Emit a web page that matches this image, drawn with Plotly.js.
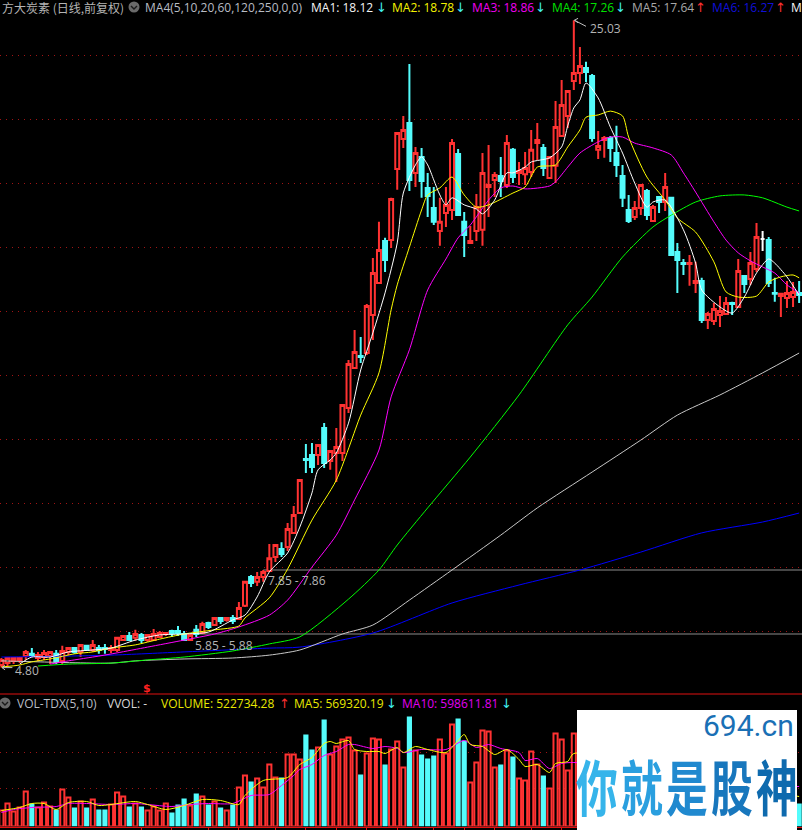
<!DOCTYPE html>
<html><head><meta charset="utf-8">
<script src="https://cdn.plot.ly/plotly-3.0.1.min.js"></script>
<style>html,body{margin:0;padding:0;background:#000;overflow:hidden}#c{width:802px;height:830px}</style>
</head><body><div id="c"></div>
<script>
const high=[5.10,5.13,5.13,5.13,5.35,5.41,5.29,5.35,5.32,5.35,5.48,5.41,5.44,5.54,5.51,5.66,5.51,5.54,5.51,5.76,5.82,5.91,5.98,5.88,5.85,6.01,5.94,5.91,5.98,6.10,5.94,5.85,6.13,6.23,6.23,6.38,6.35,6.38,6.44,6.85,7.51,7.69,7.79,7.85,8.66,8.66,8.72,9.32,9.85,10.69,11.79,11.82,11.79,12.44,11.60,12.29,13.04,14.41,15.35,15.13,16.16,17.60,18.73,18.23,19.48,21.54,22.04,23.66,21.07,21.04,20.26,19.82,19.48,19.82,21.32,21.01,19.04,18.60,19.60,20.88,21.13,20.29,20.76,21.44,21.04,20.60,20.91,21.60,21.82,21.16,20.76,22.51,23.16,22.85,25.03,24.19,23.73,23.35,21.57,21.41,21.41,21.73,20.51,19.57,19.38,19.91,19.76,19.26,19.51,20.26,19.48,18.07,17.57,17.69,17.48,16.98,15.91,16.19,16.41,16.38,16.23,17.57,17.07,17.79,18.69,18.44,18.26,16.98,16.51,16.88,16.85,16.88];
const open=[4.88,4.94,5.01,5.04,5.16,5.23,5.10,5.13,5.16,5.23,5.01,5.29,5.41,5.29,5.48,5.35,5.41,5.41,5.35,5.35,5.66,5.79,5.73,5.82,5.66,5.66,5.76,5.85,5.94,5.94,5.85,5.66,5.98,5.88,6.19,6.13,6.35,6.29,6.35,6.32,6.73,7.63,7.48,7.63,7.82,8.26,8.51,8.57,9.01,9.63,11.32,11.44,11.44,12.29,11.26,11.51,11.51,12.91,14.16,14.54,14.63,15.82,16.82,18.13,18.16,20.38,21.32,21.82,20.26,20.76,19.79,19.16,18.44,19.01,19.10,20.85,18.73,18.07,18.44,18.48,19.82,20.04,20.16,19.88,20.98,20.26,20.22,20.29,21.19,21.04,20.10,20.48,21.41,22.04,23.13,23.38,23.54,23.29,20.98,21.29,21.35,20.88,20.16,19.10,18.88,19.16,19.69,18.76,19.51,19.35,19.48,17.79,17.44,17.41,16.82,16.88,15.66,15.63,15.82,15.85,16.19,16.07,17.04,16.94,17.26,18.19,18.16,16.51,16.41,16.35,16.38,16.51];
const close=[5.04,5.10,5.10,5.10,5.29,5.19,5.19,5.26,5.29,4.98,5.32,5.41,5.29,5.51,5.35,5.51,5.35,5.38,5.41,5.73,5.79,5.66,5.85,5.66,5.82,5.85,5.88,5.88,5.88,5.88,5.66,5.82,5.85,6.16,6.07,6.35,6.26,6.35,6.26,6.66,7.48,7.44,7.63,7.79,8.22,8.63,8.35,9.13,9.57,10.66,11.29,11.07,11.76,11.19,11.57,11.69,13.01,14.29,14.66,14.51,16.10,17.13,17.85,17.54,19.44,21.51,21.60,20.04,20.88,20.01,19.54,18.73,18.73,19.26,21.19,18.94,18.32,18.13,19.19,20.26,19.88,20.19,20.01,21.19,20.13,20.32,20.41,20.98,21.29,20.41,20.76,21.69,22.38,22.82,23.38,23.60,23.41,21.35,21.10,21.35,21.04,20.51,19.48,18.76,19.16,19.88,18.94,19.19,19.35,19.82,17.69,17.54,17.41,17.44,16.88,15.66,15.85,16.01,15.94,16.19,16.16,17.19,16.79,17.44,18.26,18.19,16.82,16.48,16.48,16.51,16.54,16.44];
const low=[4.80,4.85,4.91,4.94,5.04,5.13,5.01,5.04,4.91,4.91,4.91,5.19,5.23,5.13,5.32,5.29,5.23,5.23,5.26,5.29,5.63,5.63,5.63,5.57,5.60,5.63,5.73,5.79,5.76,5.79,5.63,5.63,5.76,5.85,6.01,6.10,6.16,6.23,6.16,6.29,6.69,7.32,7.35,7.48,7.79,8.10,8.26,8.44,9.01,9.60,10.88,10.88,11.13,11.04,10.98,10.60,11.26,12.76,14.16,14.32,14.57,15.04,16.82,17.16,17.91,19.73,21.04,19.69,19.82,19.48,18.88,18.63,17.98,18.57,18.79,18.91,17.63,18.04,18.13,17.98,18.88,19.51,19.51,19.79,19.94,19.88,19.88,20.13,20.66,20.16,20.07,19.94,21.41,21.66,22.85,23.04,23.10,21.23,20.69,20.73,20.60,20.13,19.19,18.69,18.79,18.94,18.79,18.73,19.01,19.07,17.66,16.51,17.07,16.73,16.51,15.57,15.38,15.51,15.44,15.82,15.82,16.04,16.51,16.76,17.16,17.82,16.69,16.23,15.76,16.04,16.07,16.19];
const dojiIndex=125;

const ma1Idx=[3,5,8,11,15,18,22,26,30,34,38,40,42,44,47,49,51,52,54,55,57,59,61,63,65,66,68,69,70,71,72,73,74,76,78,79,81,83,84,86,87,90,92,93,94,95,96,98,100,102,104,106,107,109,112,114,115,118,120,122,124,126,127,129,131];
const ma1Val=[4.91,5.13,5.13,5.29,5.35,5.41,5.66,5.82,5.85,5.91,6.29,6.44,7.01,7.79,8.38,9.19,10.26,10.98,11.29,11.51,12.44,14.10,15.26,16.51,18.07,19.63,20.51,20.76,20.51,20.04,19.57,19.26,19.48,19.26,19.13,18.98,19.41,20.26,20.26,20.44,20.60,20.73,21.07,21.73,22.29,22.54,23.07,22.60,21.69,20.88,19.94,19.19,19.35,19.41,18.48,17.44,16.60,16.07,15.88,16.38,17.13,17.57,17.44,17.01,16.44];
const ma2Idx=[0,3,5,8,12,15,18,22,26,30,35,39,40,44,47,51,55,59,62,64,65,67,69,70,72,74,76,78,80,84,86,88,91,93,95,96,98,100,102,103,106,109,111,114,117,119,121,124,126,128,130,131];
const ma2Val=[4.82,4.88,4.98,5.07,5.23,5.29,5.41,5.51,5.69,5.85,5.98,6.10,6.35,6.98,7.88,9.41,10.66,12.69,14.01,15.98,16.76,17.94,19.10,19.57,19.79,20.13,19.57,19.19,19.26,19.63,19.82,20.44,20.51,21.07,21.60,22.00,22.07,22.19,22.04,21.38,20.13,19.41,18.85,18.41,17.48,16.54,16.38,16.41,16.85,17.01,17.07,16.98];
const ma3Idx=[8,11,16,19,24,30,35,39,44,47,51,55,58,62,64,67,70,73,75,77,80,82,84,86,90,91,93,95,98,100,102,104,107,110,112,114,117,119,121,123,125,127,129,131];
const ma3Val=[4.91,5.01,5.16,5.26,5.44,5.66,5.85,6.07,6.44,6.91,7.94,8.94,10.04,11.60,13.26,14.73,16.60,17.57,18.23,18.63,19.41,19.79,19.85,19.76,19.85,19.98,20.44,20.88,21.23,21.38,21.38,21.19,21.04,20.82,20.26,19.66,18.73,18.16,17.76,17.51,17.32,17.13,16.76,16.51];
const ma4Idx=[6,11,18,24,30,38,44,49,57,62,65,70,77,85,93,97,102,107,110,114,118,122,125,129,131];
const ma4Val=[4.85,4.91,4.94,5.04,5.13,5.32,5.54,5.76,6.94,7.85,8.63,9.79,11.38,13.32,15.51,16.38,17.63,18.57,18.94,19.35,19.54,19.57,19.48,19.19,19.07];
const ma5Idx=[0,6,18,22,30,38,44,49,56,61,67,74,82,88,97,105,111,118,125,131];
const ma5Val=[5.01,4.98,4.94,5.01,5.07,5.10,5.19,5.35,5.85,6.13,6.91,7.85,8.94,9.79,10.91,11.91,12.69,13.32,14.01,14.63];
const ma6Idx=[0,8,18,30,44,49,61,74,85,95,105,115,125,131];
const ma6Val=[5.13,5.15,5.19,5.29,5.41,5.44,5.88,6.82,7.38,7.85,8.41,9.01,9.35,9.63];

const hiddenVolumes=Array(36).fill(null);
const volume=[32,46,30,38,70,46,38,48,40,34,74,58,38,50,38,54,34,34,44,68,60,40,46,40,32,40,32,46,28,44,56,42,66,60,44,50,38,32,44,78,102,90,96,78,124,98,98,144,144,134,184,154,158,214,144,160,174,178,152,104,146,176,174,124,154,170,118,220,152,144,136,142,174,146,204,216,172,88,128,192,190,118,124,152,140,96,92,150,124,102,76,186,174,112,186].concat(hiddenVolumes,[46]);
const volMa5Idx=[0,3,5,7,9,11,14,16,18,22,24,27,30,33,36,39,40,43,47,49,51,53,54,55,57,58,60,62,63,65,66,68,70,73,75,76,77,79,81,83,85,86,88,90,91,93,94,130,131];
const volMa5Val=[32,38,46,46,34,48,50,42,44,50,44,34,42,54,52,44,62,92,98,124,138,166,170,166,172,154,150,150,146,158,148,160,154,148,172,184,164,160,144,154,134,120,124,108,126,130,146,62,60];
const volMa10Idx=[0,2,5,9,11,14,18,22,24,28,31,34,38,41,44,46,48,49,51,53,55,57,58,61,63,65,66,69,73,76,78,80,82,85,86,88,90,92,94,130,131];
const volMa10Val=[28,34,38,40,46,46,44,46,44,40,44,46,46,62,64,82,102,114,124,142,150,164,164,156,160,156,148,154,154,172,158,164,156,148,132,136,116,126,128,80,80];

const gridPrices=[5.94,7.94,9.94,11.94,13.94,15.94,17.94,19.94,21.94,23.94];
const levelPrices=[7.85,5.85];
const levelStarts=[43,31];
const volGrid=[77,149];
const dateTicks=[23,28,34,39,45,50,55,60,65,71,76,81,87,92];

const headerTop=[
 ["方大炭素 (日线,前复权)",1,"#b4b4b4"],
 ["MA4(5,10,20,60,120,250,0,0)",144,"#b8bcc4"],
 ["MA1: 18.12",310,"#f4f4f4"],
 ["MA2: 18.78",391,"#f4f400"],
 ["MA3: 18.86",471,"#f000f0"],
 ["MA4: 17.26",551,"#00e000"],
 ["MA5: 17.64",631,"#a8a8a8"],
 ["MA6: 16.27",711,"#1010d8"],
 ["M",790,"#f4f4f4"]
];
const headerTopArrows=[["↓",380,"#40f0f0"],["↓",459,"#40f0f0"],["↓",539,"#40f0f0"],["↓",619,"#40f0f0"],["↑",699,"#ff3030"],["↑",779,"#ff3030"]];
const headerVol=[
 ["VOL-TDX(5,10)",16,"#b8bcc4"],
 ["VVOL: -",106,"#d8d8d8"],
 ["VOLUME: 522734.28",160,"#e8e800"],
 ["MA5: 569320.19",293,"#e8e800"],
 ["MA10: 598611.81",401,"#e000f0"]
];
const headerVolArrows=[["↑",283,"#ff3030"],["↓",390,"#40f0f0"],["↓",505,"#40f0f0"]];
const brandChars=[["你",597,"#36b4ea"],["就",642,"#2a9fdf"],["是",687,"#2089cf"],["股",732,"#1877bd"],["神",777,"#0e6aae"]];

const px=x=>x/802, py=y=>1-y/830;
const idx=open.map((_,i)=>i);
const hide=a=>a.map((v,i)=>i===dojiIndex?null:v);
const isUp=i=>close[i]>=open[i];
const RED='#ff3232',CY='#54fcfc';
const line=(x,y,c,axis)=>({type:'scatter',mode:'lines',x:x,y:y,yaxis:axis,hoverinfo:'skip',line:{color:c,width:1,shape:'spline',smoothing:0.7},showlegend:false});

const traces=[
 {type:'candlestick',x:idx,open:hide(open),high:hide(high),low:hide(low),close:hide(close),yaxis:'y',
  increasing:{line:{color:RED,width:2},fillcolor:'#000'},
  decreasing:{line:{color:CY,width:2},fillcolor:CY},whiskerwidth:0,showlegend:false,hoverinfo:'skip'},
 {type:'candlestick',x:[dojiIndex],open:[open[dojiIndex]],high:[high[dojiIndex]],low:[low[dojiIndex]],close:[close[dojiIndex]],yaxis:'y',
  increasing:{line:{color:'#fff',width:2},fillcolor:'#fff'},
  decreasing:{line:{color:'#fff',width:2},fillcolor:'#fff'},whiskerwidth:0,showlegend:false,hoverinfo:'skip'},
 line(ma6Idx,ma6Val,'#0000ff','y'),
 line(ma5Idx,ma5Val,'#c8c8c8','y'),
 line(ma4Idx,ma4Val,'#00ff00','y'),
 line(ma3Idx,ma3Val,'#ff00ff','y'),
 line(ma2Idx,ma2Val,'#ffff00','y'),
 line(ma1Idx,ma1Val,'#ffffff','y'),
 {type:'bar',x:idx,y:volume,yaxis:'y2',hoverinfo:'skip',showlegend:false,width:idx.map(i=>isUp(i)?0.68:0.85),
  marker:{color:idx.map(i=>isUp(i)?'#000':CY),line:{color:idx.map(i=>isUp(i)?RED:CY),width:idx.map(i=>isUp(i)?2:0)}}},
 line(volMa10Idx,volMa10Val,'#ff00ff','y2'),
 line(volMa5Idx,volMa5Val,'#ffff00','y2')
];

const shapes=[];
levelPrices.forEach((p,k)=>shapes.push({type:'line',layer:'below',xref:'x',x0:levelStarts[k],x1:131.47,yref:'y',y0:p,y1:p,line:{color:'#8c8c8c',width:1}}));
shapes.push({type:'line',xref:'paper',x0:0,x1:1,yref:'paper',y0:py(694),y1:py(694),line:{color:'#e01010',width:1}});
[[94.1,96,25.03,24.84],[94.1,94.7,25.03,25.09],[94.1,94.7,25.03,24.95],
 [0.1,1.8,4.80,4.80],[0.1,0.6,4.80,4.87],[0.1,0.6,4.80,4.73]].forEach(([a,b,c,d])=>
 shapes.push({type:'line',xref:'x',yref:'y',x0:a,x1:b,y0:c,y1:d,line:{color:'#c0c0c0',width:1}}));
[[134,7],[5,703]].forEach(([cx,cy])=>{
 shapes.push({type:'circle',xref:'paper',yref:'paper',x0:px(cx-5.5),x1:px(cx+5.5),y0:py(cy+5.5),y1:py(cy-5.5),fillcolor:'#6a6a6a',line:{width:0}});
 shapes.push({type:'path',xref:'paper',yref:'paper',path:`M ${px(cx-3)} ${py(cy-1)} L ${px(cx)} ${py(cy+2)} L ${px(cx+3)} ${py(cy-1)}`,line:{color:'#1a1a1a',width:1.4}});
});
shapes.push({type:'rect',xref:'paper',yref:'paper',x0:px(577),x1:px(797),y0:py(830),y1:py(710),fillcolor:'#fff',line:{width:0}});

const F='"Open Sans",sans-serif';
const ann=[];
const txt=(t,x,y,c,s,extra)=>ann.push(Object.assign({text:t,xref:'paper',yref:'paper',x:px(x),y:py(y),xanchor:'left',yanchor:'middle',showarrow:false,borderpad:0,font:{family:F,size:s,color:c}},extra||{}));
headerTop.forEach(([t,x,c])=>txt(t,x,7,c,12,t.charCodeAt(0)>255?{font:{family:'"Noto Sans CJK SC"',size:12,color:c}}:{}));
headerTopArrows.forEach(([t,x,c])=>txt(t,x-5,7,c,13,{font:{family:'"DejaVu Sans"',size:13,color:c}}));
headerVol.forEach(([t,x,c])=>txt(t,x,703,c,12));
headerVolArrows.forEach(([t,x,c])=>txt(t,x-5,703,c,13,{font:{family:'"DejaVu Sans"',size:13,color:c}}));
txt("$",142,688,"#ff2020",11,{font:{family:'"DejaVu Sans"',size:11,color:'#ff2020',weight:700}});
txt("25.03",589,28,"#b4b4b4",12);
txt("4.80",14,670,"#b4b4b4",12);
txt("7.85 - 7.86",267,580,"#b4b4b4",12);
txt("5.85 - 5.88",194,645,"#b4b4b4",12);
ann.push({text:"694.cn",xref:'paper',yref:'paper',x:px(796),y:py(725),xanchor:'right',yanchor:'middle',showarrow:false,font:{family:'"Liberation Sans Narrow",Roboto',size:30,color:'#1a70b5'}});
const brandStart=ann.length;
brandChars.forEach(([t,x,c])=>ann.push({text:t,xref:'paper',yref:'paper',x:px(x),y:py(785),xanchor:'center',yanchor:'middle',showarrow:false,font:{family:'"Noto Sans CJK SC"',size:44,color:c,weight:700}}));

const layout={
 width:802,height:830,margin:{l:0,r:0,t:0,b:0},paper_bgcolor:'#000',plot_bgcolor:'#000',
 showlegend:false,boxmode:'overlay',boxgap:0.35,boxgroupgap:0,bargap:0.2,barmode:'overlay',
 xaxis:{domain:[0,1],range:[-0.23,131.47],anchor:'y2',rangeslider:{visible:false},showgrid:false,zeroline:false,
  tickmode:'array',tickvals:dateTicks,ticktext:dateTicks.map(()=>''),ticks:'outside',ticklen:4,tickcolor:'#e01010',tickwidth:1,
  showline:true,linecolor:'#e01010',linewidth:1},
 yaxis:{domain:[1-690/830,1-18/830],range:[4.10,25.10],anchor:'x',side:'right',showticklabels:false,zeroline:false,
  tickmode:'array',tickvals:gridPrices,showgrid:true,gridcolor:'#a01414',griddash:'1px,5px',gridwidth:1,ticks:''},
 yaxis2:{domain:[1-826.5/830,1-695/830],range:[0,263],anchor:'x',side:'right',showticklabels:false,zeroline:false,
  tickmode:'array',tickvals:volGrid,showgrid:true,gridcolor:'#a01414',griddash:'1px,5px',gridwidth:1,ticks:''},
 shapes:shapes,annotations:ann,hovermode:false
};
Plotly.newPlot('c',traces,layout,{displayModeBar:false,staticPlot:true}).then(()=>{
 const nodes=document.querySelectorAll('.annotation');
 brandChars.forEach(([t,x],k)=>{
  const el=nodes[brandStart+k]; if(!el) return;
  const g=el.querySelector('.annotation-text-g'); if(!g) return;
  const prev=g.getAttribute('transform')||'';
  g.setAttribute('transform',`translate(${x},785) scale(0.95,1.38) translate(${-x},-785) ${prev}`);
 });
});
</script></body></html>
